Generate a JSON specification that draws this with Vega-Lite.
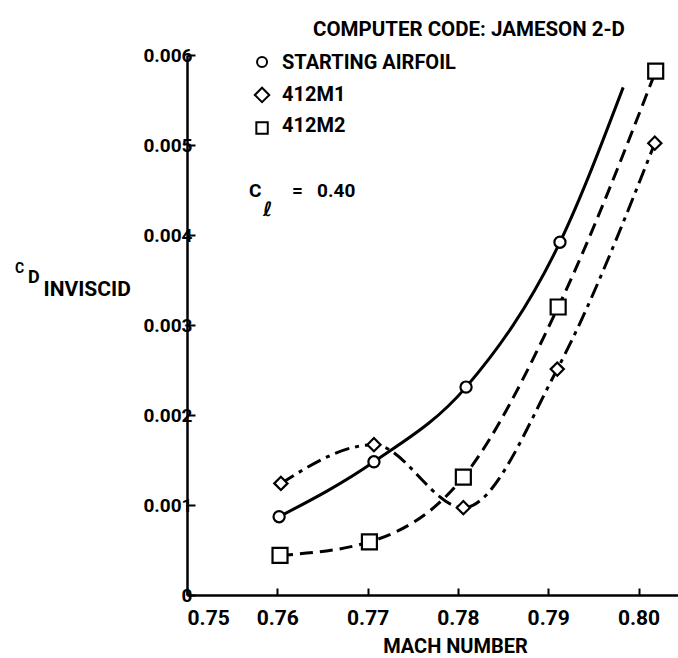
{
  "$schema": "https://vega.github.io/schema/vega-lite/v6.json",
  "width": 491,
  "height": 540,
  "autosize": {"type": "none"},
  "padding": {"left": 187, "top": 55, "right": 0, "bottom": 63},
  "background": "white",
  "config": {
    "view": {"stroke": null},
    "font": "Roboto",
    "axis": {"grid": false, "domainColor": "black", "tickColor": "black", "labelColor": "black", "titleColor": "black", "labelFont": "Roboto", "titleFont": "Roboto", "labelFontWeight": "bold", "titleFontWeight": "bold"}
  },
  "title": {
    "text": "COMPUTER CODE:  JAMESON 2-D",
    "anchor": "start",
    "frame": "group",
    "dx": 126,
    "offset": -10,
    "baseline": "alphabetic",
    "font": "Roboto",
    "fontSize": 20.5,
    "fontWeight": "bold",
    "color": "black"
  },
  "datasets": {
    "curves": [
      {"airfoil": "STARTING AIRFOIL", "mach": 0.7602, "cd": 0.00087, "kind": "measured"},
      {"airfoil": "STARTING AIRFOIL", "mach": 0.7707, "cd": 0.00148, "kind": "measured"},
      {"airfoil": "STARTING AIRFOIL", "mach": 0.7809, "cd": 0.00231, "kind": "measured"},
      {"airfoil": "STARTING AIRFOIL", "mach": 0.7913, "cd": 0.00392, "kind": "measured"},
      {"airfoil": "STARTING AIRFOIL", "mach": 0.7983, "cd": 0.00564, "kind": "fairing"},
      {"airfoil": "412M1", "mach": 0.7604, "cd": 0.00124, "kind": "measured"},
      {"airfoil": "412M1", "mach": 0.7707, "cd": 0.00167, "kind": "measured"},
      {"airfoil": "412M1", "mach": 0.7806, "cd": 0.00097, "kind": "measured"},
      {"airfoil": "412M1", "mach": 0.7910, "cd": 0.00251, "kind": "measured"},
      {"airfoil": "412M1", "mach": 0.8018, "cd": 0.00502, "kind": "measured"},
      {"airfoil": "412M2", "mach": 0.7603, "cd": 0.00044, "kind": "measured"},
      {"airfoil": "412M2", "mach": 0.7702, "cd": 0.00059, "kind": "measured"},
      {"airfoil": "412M2", "mach": 0.7806, "cd": 0.00131, "kind": "measured"},
      {"airfoil": "412M2", "mach": 0.7911, "cd": 0.00320, "kind": "measured"},
      {"airfoil": "412M2", "mach": 0.8019, "cd": 0.00582, "kind": "measured"}
    ]
  },
  "data": {"name": "curves"},
  "layer": [
    {
      "transform": [{"filter": "datum.airfoil == 'STARTING AIRFOIL'"}],
      "mark": {"type": "line", "interpolate": "monotone", "strokeWidth": 3, "color": "black"},
      "encoding": {
        "x": {
          "field": "mach", "type": "quantitative",
          "scale": {"domain": [0.75, 0.80437], "nice": false, "zero": false},
          "axis": {
            "values": [0.75, 0.76, 0.77, 0.78, 0.79, 0.80],
            "format": ".2f",
            "title": "MACH NUMBER",
            "domainWidth": 2.5,
            "tickWidth": 2,
            "tickSize": -7,
            "labelFontSize": 21,
            "labelBaseline": "alphabetic",
            "labelPadding": 36,
            "labelFlush": true,
            "titleFontSize": 20,
            "titleX": 268,
            "titleY": 57,
            "titleAlign": "center",
            "titleBaseline": "alphabetic"
          }
        },
        "y": {
          "field": "cd", "type": "quantitative",
          "scale": {"domain": [0, 0.006], "nice": false},
          "axis": {
            "values": [0, 0.001, 0.002, 0.003, 0.004, 0.005, 0.006],
            "labelExpr": "datum.value == 0 ? '0' : format(datum.value, '.3f')",
            "title": "INVISCID",
            "titleAngle": 0,
            "titleAlign": "left",
            "titleBaseline": "alphabetic",
            "titleX": -144,
            "titleY": 240,
            "titleFontSize": 21,
            "domainWidth": 2.5,
            "tickWidth": 2,
            "tickSize": -8,
            "labelFontSize": 19,
            "labelPadding": 3
          }
        }
      }
    },
    {
      "transform": [{"filter": "datum.airfoil == '412M1'"}],
      "mark": {"type": "line", "interpolate": "monotone", "strokeWidth": 3, "color": "black", "strokeDash": [15, 6, 4, 6]},
      "encoding": {
        "x": {"field": "mach", "type": "quantitative"},
        "y": {"field": "cd", "type": "quantitative"}
      }
    },
    {
      "transform": [{"filter": "datum.airfoil == '412M2'"}],
      "mark": {"type": "line", "interpolate": "monotone", "strokeWidth": 3, "color": "black", "strokeDash": [13, 7]},
      "encoding": {
        "x": {"field": "mach", "type": "quantitative"},
        "y": {"field": "cd", "type": "quantitative"}
      }
    },
    {
      "transform": [{"filter": "datum.kind == 'measured'"}],
      "mark": {"type": "point", "filled": true, "fill": "white", "stroke": "black", "strokeWidth": 2.2, "opacity": 1},
      "encoding": {
        "x": {"field": "mach", "type": "quantitative"},
        "y": {"field": "cd", "type": "quantitative"},
        "shape": {
          "field": "airfoil", "type": "nominal",
          "scale": {"domain": ["STARTING AIRFOIL", "412M1", "412M2"], "range": ["circle", "diamond", "square"]},
          "legend": {
            "title": null,
            "orient": "none",
            "legendX": 67,
            "legendY": -2,
            "padding": 0,
            "symbolOpacity": 0,
            "labelFont": "Roboto",
            "labelFontSize": 20,
            "labelFontWeight": "bold",
            "labelColor": "black",
            "labelOffset": 8,
            "labelLimit": 300,
            "rowPadding": 11.5
          }
        },
        "size": {
          "field": "airfoil", "type": "nominal",
          "scale": {"domain": ["STARTING AIRFOIL", "412M1", "412M2"], "range": [125, 225, 169]},
          "legend": {
            "title": null,
            "orient": "none",
            "legendX": 67,
            "legendY": -2,
            "padding": 0,
            "symbolOpacity": 0,
            "labelFont": "Roboto",
            "labelFontSize": 20,
            "labelFontWeight": "bold",
            "labelColor": "black",
            "labelOffset": 8,
            "labelLimit": 300,
            "rowPadding": 11.5
          }
        }
      }
    },
    {
      "data": {"values": [{"airfoil": "STARTING AIRFOIL"}]},
      "mark": {"type": "point", "shape": "circle", "size": 100, "filled": true, "fill": "white", "stroke": "black", "strokeWidth": 2, "opacity": 1},
      "encoding": {
        "x": {"datum": 0.75831, "type": "quantitative"},
        "y": {"datum": 0.005922, "type": "quantitative"}
      }
    },
    {
      "data": {"values": [{"airfoil": "412M1"}]},
      "mark": {"type": "point", "shape": "diamond", "size": 210, "filled": true, "fill": "white", "stroke": "black", "strokeWidth": 2, "opacity": 1},
      "encoding": {
        "x": {"datum": 0.75831, "type": "quantitative"},
        "y": {"datum": 0.005556, "type": "quantitative"}
      }
    },
    {
      "data": {"values": [{"airfoil": "412M2"}]},
      "mark": {"type": "point", "shape": "square", "size": 130, "filled": true, "fill": "white", "stroke": "black", "strokeWidth": 2, "opacity": 1},
      "encoding": {
        "x": {"datum": 0.75831, "type": "quantitative"},
        "y": {"datum": 0.005189, "type": "quantitative"}
      }
    },
    {
      "data": {"values": [{"note": "C"}]},
      "mark": {"type": "text", "align": "left", "baseline": "alphabetic", "font": "Roboto", "fontSize": 14, "fontWeight": "bold", "color": "black"},
      "encoding": {
        "x": {"datum": 0.73095, "type": "quantitative"},
        "y": {"datum": 0.003578, "type": "quantitative"},
        "text": {"field": "note"}
      }
    },
    {
      "data": {"values": [{"note": "D"}]},
      "mark": {"type": "text", "align": "left", "baseline": "alphabetic", "font": "Roboto", "fontSize": 18, "fontWeight": "bold", "color": "black"},
      "encoding": {
        "x": {"datum": 0.73239, "type": "quantitative"},
        "y": {"datum": 0.003467, "type": "quantitative"},
        "text": {"field": "note"}
      }
    },
    {
      "data": {"values": [{"note": "C"}]},
      "mark": {"type": "text", "align": "left", "baseline": "alphabetic", "font": "Roboto", "fontSize": 19, "fontWeight": "bold", "color": "black"},
      "encoding": {
        "x": {"datum": 0.75687, "type": "quantitative"},
        "y": {"datum": 0.004422, "type": "quantitative"},
        "text": {"field": "note"}
      }
    },
    {
      "data": {"values": [{"note": "ℓ"}]},
      "mark": {"type": "text", "align": "left", "baseline": "alphabetic", "font": "DejaVu Sans", "fontSize": 20, "fontWeight": "bold", "fontStyle": "italic", "color": "black"},
      "encoding": {
        "x": {"datum": 0.75842, "type": "quantitative"},
        "y": {"datum": 0.004211, "type": "quantitative"},
        "text": {"field": "note"}
      }
    },
    {
      "data": {"values": [{"note": "=\u00a0\u00a0\u00a00.40"}]},
      "mark": {"type": "text", "align": "left", "baseline": "alphabetic", "font": "Roboto", "fontSize": 19, "fontWeight": "bold", "color": "black"},
      "encoding": {
        "x": {"datum": 0.76163, "type": "quantitative"},
        "y": {"datum": 0.004422, "type": "quantitative"},
        "text": {"field": "note"}
      }
    }
  ]
}
